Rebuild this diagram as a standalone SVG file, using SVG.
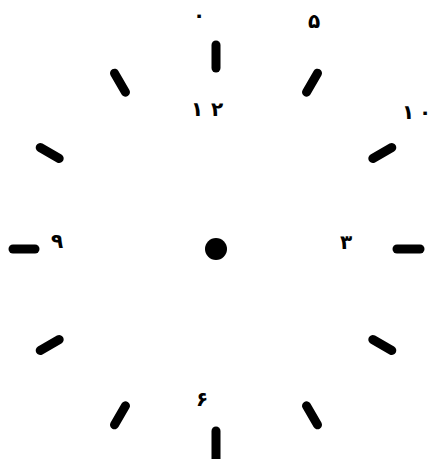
<svg xmlns="http://www.w3.org/2000/svg" width="432" height="459" viewBox="0 0 432 459">
<style>
.t{stroke:#000;stroke-width:9;stroke-linecap:round;fill:none}
.n{font-family:"DejaVu Sans",sans-serif;font-weight:bold;font-size:20px;fill:#000;text-anchor:middle}
</style>
<rect width="432" height="459" fill="#fff"/>
<g id="ticks">
<line class="t" x1="216" y1="68" x2="216" y2="45"/>
<line class="t" x1="306.5" y1="92.2" x2="317.5" y2="73.2"/>
<line class="t" x1="372.8" y1="158.5" x2="391.8" y2="147.5"/>
<line class="t" x1="397" y1="249" x2="420" y2="249"/>
<line class="t" x1="372.8" y1="339.5" x2="391.8" y2="350.5"/>
<line class="t" x1="306.5" y1="405.8" x2="317.5" y2="424.8"/>
<line class="t" x1="216" y1="431" x2="216" y2="462"/>
<line class="t" x1="125.5" y1="405.8" x2="114.5" y2="424.8"/>
<line class="t" x1="59.2" y1="339.5" x2="40.2" y2="350.5"/>
<line class="t" x1="35" y1="249" x2="13" y2="249"/>
<line class="t" x1="59.2" y1="158.5" x2="40.2" y2="147.5"/>
<line class="t" x1="125.5" y1="92.2" x2="114.5" y2="73.2"/>
</g>
<g id="center"><circle cx="216" cy="249" r="11" fill="#000"/></g>
<g id="labels">
<text class="n" y="116"><tspan x="197">۱</tspan><tspan x="217">۲</tspan></text>
<text class="n" x="199" y="22">۰</text>
<text class="n" x="314" y="28">۵</text>
<text class="n" y="119"><tspan x="408">۱</tspan><tspan x="425">۰</tspan></text>
<text class="n" x="57" y="248">۹</text>
<text class="n" x="346" y="249">۳</text>
<text class="n" x="202" y="406">۶</text>
</g>
</svg>
